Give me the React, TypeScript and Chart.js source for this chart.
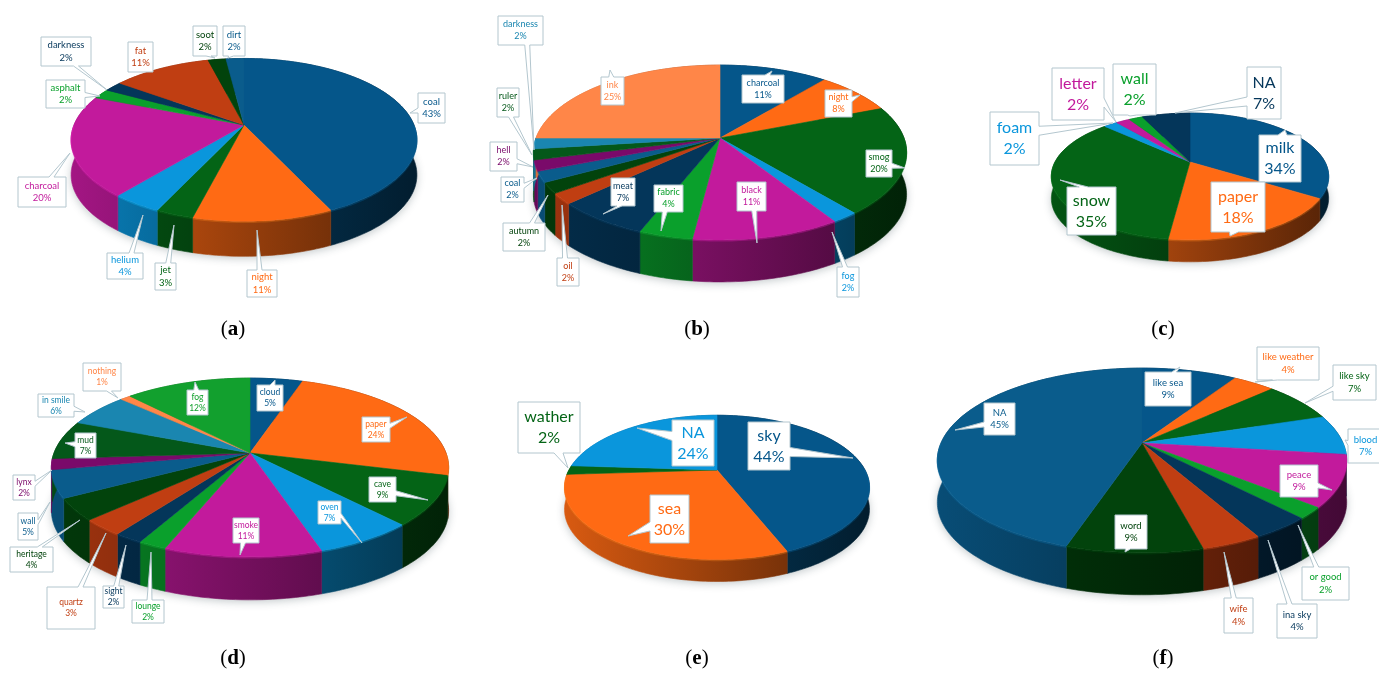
import React, { useEffect, useRef } from "react";
import { Chart, registerables } from "chart.js";

Chart.register(...registerables);

// Survey answers per panel: slice names and their percentages, clockwise from 12 o'clock.
const aNames = ["coal", "night", "jet", "helium", "charcoal", "asphalt", "darkness", "fat", "soot", "dirt"];
const aValues = [43, 11, 3, 4, 20, 2, 2, 11, 2, 2];

const bNames = ["charcoal", "night", "smog", "fog", "black", "fabric", "meat", "oil", "autumn", "coal", "hell", "ruler", "darkness", "ink"];
const bValues = [11, 8, 20, 2, 11, 4, 7, 2, 2, 2, 2, 2, 2, 25];

const cNames = ["milk", "paper", "snow", "foam", "letter", "wall", "NA"];
const cValues = [34, 18, 35, 2, 2, 2, 7];

const dNames = ["cloud", "paper", "cave", "oven", "smoke", "lounge", "sight", "quartz", "heritage", "wall", "lynx", "mud", "in smile", "nothing", "fog"];
const dValues = [5, 24, 9, 7, 11, 2, 2, 3, 4, 5, 2, 7, 6, 1, 12];

const eNames = ["sky", "sea", "wather", "NA"];
const eValues = [44, 30, 2, 24];

const fNames = ["like sea", "like weather", "like sky", "blood", "peace", "or good", "ina sky", "wife", "word", "NA"];
const fValues = [9, 4, 7, 7, 9, 2, 4, 4, 9, 45];

const captions = ["a", "b", "c", "d", "e", "f"];

const palette = [
  "#05568a", "#ff6a14", "#046416", "#0a96dc", "#c21a9c", "#0aa02c", "#04365a", "#c03e12",
  "#02430c", "#0a5c8c", "#7a0a6a", "#04581a", "#1a86b0", "#ff8648", "#12a02e",
];

// Callout boxes on the page: x, y, width, height, then the tip of the tail.
type Callout = [number, number, number, number, number, number];

const aCallouts: Callout[] = [
  [418, 93, 27, 30, 410, 113], [247, 270, 30, 27, 257, 230], [155, 263, 21, 27, 174, 225],
  [107, 253, 36, 26, 143, 215], [18, 177, 48, 30, 70, 153], [46, 80, 39, 28, 100, 96],
  [41, 37, 50, 29, 107, 90], [128, 42, 25, 30, 140, 72], [193, 26, 24, 30, 215, 58], [223, 26, 22, 30, 228, 58],
];
const bCallouts: Callout[] = [
  [742, 75, 42, 28, 772, 71], [825, 90, 27, 27, 860, 95], [866, 150, 26, 27, 905, 168],
  [837, 267, 22, 30, 832, 232], [737, 182, 29, 29, 757, 243], [654, 185, 29, 27, 661, 231],
  [611, 178, 24, 28, 603, 214], [557, 258, 22, 28, 562, 205], [503, 223, 42, 28, 548, 195],
  [501, 177, 23, 25, 537, 178], [490, 142, 27, 29, 533, 167], [497, 88, 22, 29, 532, 155],
  [498, 16, 45, 29, 534, 150], [601, 77, 23, 28, 610, 70],
];
const cCallouts: Callout[] = [
  [1259, 135, 42, 47, 1285, 130], [1211, 182, 54, 50, 1230, 236], [1067, 187, 49, 48, 1060, 180],
  [990, 112, 49, 53, 1113, 123], [1052, 68, 52, 52, 1116, 122], [1113, 64, 43, 51, 1130, 116], [1247, 67, 34, 52, 1175, 113],
];
const dCallouts: Callout[] = [
  [257, 385, 26, 26, 275, 380], [362, 417, 28, 25, 407, 417], [369, 477, 27, 25, 428, 500],
  [318, 501, 23, 23, 362, 543], [233, 518, 26, 25, 240, 555], [132, 600, 32, 23, 151, 552],
  [103, 586, 21, 22, 126, 545], [47, 587, 48, 42, 106, 533], [10, 547, 43, 25, 80, 520],
  [18, 513, 20, 27, 50, 502], [13, 475, 22, 25, 52, 470], [75, 433, 21, 25, 65, 443],
  [38, 394, 36, 23, 85, 412], [83, 363, 38, 28, 118, 398], [187, 390, 21, 25, 195, 382],
];
const eCallouts: Callout[] = [
  [748, 422, 42, 48, 853, 458], [650, 495, 39, 48, 628, 536], [518, 402, 62, 51, 568, 468], [672, 420, 42, 46, 637, 428],
];
const fCallouts: Callout[] = [
  [1145, 372, 46, 34, 1180, 367], [1257, 347, 62, 33, 1255, 382], [1333, 365, 43, 35, 1305, 403],
  [1348, 429, 35, 34, 1345, 440], [1280, 465, 38, 32, 1332, 490], [1302, 567, 47, 33, 1298, 525],
  [1277, 604, 40, 34, 1268, 540], [1224, 598, 29, 35, 1224, 552], [1115, 515, 32, 34, 1125, 552], [984, 403, 31, 32, 955, 430],
];

// Panel placement: apex of the pie, radius, vertical squash, perspective strength, rim depth, label font size.
const panels = [
  { names: aNames, values: aValues, callouts: aCallouts, cx: 244, cy: 125, r: 170, squash: 0.463, k: 0.183, depth: 35, font: 9.5 },
  { names: bNames, values: bValues, callouts: bCallouts, cx: 720, cy: 138, r: 184, squash: 0.462, k: 0.166, depth: 42, font: 9 },
  { names: cNames, values: cValues, callouts: cCallouts, cx: 1190, cy: 162, r: 135, squash: 0.445, k: 0.228, depth: 22, font: 16 },
  { names: dNames, values: dValues, callouts: dCallouts, cx: 250, cy: 453, r: 196, squash: 0.444, k: 0.162, depth: 43, font: 8.5 },
  { names: eNames, values: eValues, callouts: eCallouts, cx: 717, cy: 470, r: 148, squash: 0.459, k: 0.241, depth: 22, font: 16 },
  { names: fNames, values: fValues, callouts: fCallouts, cx: 1142, cy: 443, r: 201, squash: 0.443, k: 0.189, depth: 42, font: 9.5 },
];

const PAD = 130;
const RIM = "#b3c6ce";

function shade(hex: string, f: number): string {
  const n = parseInt(hex.slice(1), 16);
  const c = [(n >> 16) & 255, (n >> 8) & 255, n & 255].map((v) => Math.min(255, Math.round(v * f)));
  return `rgb(${c[0]},${c[1]},${c[2]})`;
}

// Rectangular callout whose tail leaves the side nearest to the tip.
function calloutPath(ctx: CanvasRenderingContext2D, x: number, y: number, w: number, h: number, tx: number, ty: number, tail: number) {
  const mx = x + w / 2;
  const my = y + h / 2;
  const dx = tx < x ? x - tx : tx > x + w ? tx - x - w : 0;
  const dy = ty < y ? y - ty : ty > y + h ? ty - y - h : 0;
  const base = Math.min(tail, Math.min(w, h) * 0.4);
  const clampX = Math.max(x + base, Math.min(x + w - base, tx));
  const clampY = Math.max(y + base, Math.min(y + h - base, ty));
  const bx = (clampX + mx) / 2;
  const by = (clampY + my) / 2;
  ctx.beginPath();
  ctx.moveTo(x, y);
  if (dy >= dx && ty < y) {
    ctx.lineTo(bx - base / 2, y);
    ctx.lineTo(tx, ty);
    ctx.lineTo(bx + base / 2, y);
  }
  ctx.lineTo(x + w, y);
  if (dx > dy && tx > x + w) {
    ctx.lineTo(x + w, by - base / 2);
    ctx.lineTo(tx, ty);
    ctx.lineTo(x + w, by + base / 2);
  }
  ctx.lineTo(x + w, y + h);
  if (dy >= dx && ty > y + h) {
    ctx.lineTo(bx + base / 2, y + h);
    ctx.lineTo(tx, ty);
    ctx.lineTo(bx - base / 2, y + h);
  }
  ctx.lineTo(x, y + h);
  if (dx > dy && tx < x) {
    ctx.lineTo(x, by + base / 2);
    ctx.lineTo(tx, ty);
    ctx.lineTo(x, by - base / 2);
  }
  ctx.closePath();
}

// Draws the controller's arcs as a tilted disc with a rim, then the value callouts.
const discPlugin = {
  id: "disc",
  beforeDatasetDraw(chart: any) {
    const p = chart.options.plugins.disc;
    const ctx: CanvasRenderingContext2D = chart.ctx;
    const arcs = chart.getDatasetMeta(0).data;
    const colors: string[] = chart.data.datasets[0].backgroundColor;
    const offX = p.cx - chart.width / 2;
    const offY = p.cy - chart.height / 2;

    const project = (el: any, a: number) => {
      const u = Math.cos(a);
      const v = Math.sin(a);
      const w = 1 - p.k * v;
      return [el.x + (el.outerRadius * u) / w, el.y + (el.outerRadius * p.squash * v) / w];
    };
    const outline = (el: any) => {
      const pts: number[][] = [];
      const n = Math.max(2, Math.ceil((el.endAngle - el.startAngle) / 0.02));
      for (let i = 0; i <= n; i++) pts.push(project(el, el.startAngle + ((el.endAngle - el.startAngle) * i) / n));
      return pts;
    };

    const first = arcs[0];
    const left = first.x - first.outerRadius * 1.05;
    const span = first.outerRadius * 2.1;
    const lightAt = (x: number) => 0.85 - (0.52 * (x - left)) / span;

    // soft shadow under the whole disc
    ctx.save();
    ctx.shadowColor = "rgba(40,60,70,0.28)";
    ctx.shadowBlur = 9;
    ctx.shadowOffsetY = 2;
    ctx.fillStyle = "#ffffff";
    ctx.beginPath();
    arcs.forEach((el: any) => outline(el).forEach(([x, y]) => ctx.lineTo(x, y + p.depth)));
    ctx.closePath();
    ctx.fill();
    ctx.restore();

    // rim
    arcs.forEach((el: any, i: number) => {
      const pts = outline(el);
      const xs = pts.map((q) => q[0]);
      const x0 = Math.min(...xs);
      const x1 = Math.max(...xs);
      const g = ctx.createLinearGradient(x0, 0, Math.max(x1, x0 + 1), 0);
      g.addColorStop(0, shade(colors[i], lightAt(x0)));
      g.addColorStop(1, shade(colors[i], lightAt(x1)));
      ctx.fillStyle = g;
      ctx.strokeStyle = g;
      ctx.lineWidth = 0.6;
      ctx.beginPath();
      pts.forEach(([x, y]) => ctx.lineTo(x, y));
      for (let j = pts.length - 1; j >= 0; j--) ctx.lineTo(pts[j][0], pts[j][1] + p.depth);
      ctx.closePath();
      ctx.fill();
      ctx.stroke();
    });

    // top face
    arcs.forEach((el: any, i: number) => {
      ctx.fillStyle = colors[i];
      ctx.strokeStyle = colors[i];
      ctx.lineWidth = 0.6;
      ctx.beginPath();
      ctx.moveTo(el.x, el.y);
      outline(el).forEach(([x, y]) => ctx.lineTo(x, y));
      ctx.closePath();
      ctx.fill();
      ctx.stroke();
    });

    // faint highlight along the front edge
    ctx.save();
    ctx.globalAlpha = 0.3;
    ctx.lineWidth = 1.4;
    arcs.forEach((el: any, i: number) => {
      ctx.strokeStyle = shade(colors[i], 1.25);
      ctx.beginPath();
      outline(el).forEach(([x, y], j, all) => {
        const a = el.startAngle + ((el.endAngle - el.startAngle) * j) / (all.length - 1);
        if (Math.sin(a) > 0) ctx.lineTo(x, y + 1);
        else ctx.moveTo(x, y + 1);
      });
      ctx.stroke();
    });
    ctx.restore();

    // callouts
    ctx.textAlign = "center";
    ctx.textBaseline = "middle";
    ctx.font = `${p.font}px Lato, "Open Sans", sans-serif`;
    p.callouts.forEach((c: Callout, i: number) => {
      const [x, y, w, h, tx, ty] = c;
      const bx = x - offX;
      const by = y - offY;
      calloutPath(ctx, bx, by, w, h, tx - offX, ty - offY, p.font > 12 ? 9 : 5);
      ctx.fillStyle = "#ffffff";
      ctx.fill();
      ctx.strokeStyle = RIM;
      ctx.lineWidth = 1;
      ctx.stroke();
      ctx.fillStyle = shade(colors[i], 1);
      const lead = p.font * 1.32;
      ctx.fillText(chart.data.labels[i], bx + w / 2, by + h / 2 - lead / 2);
      ctx.fillText(`${chart.data.datasets[0].data[i]}%`, bx + w / 2, by + h / 2 + lead / 2);
    });
    return false;
  },
};

function Panel({ spec }: { spec: (typeof panels)[number] }) {
  const ref = useRef<HTMLCanvasElement>(null);
  const side = 2 * (spec.r + PAD);
  useEffect(() => {
    const chart = new Chart(ref.current as HTMLCanvasElement, {
      type: "pie",
      data: {
        labels: spec.names,
        datasets: [{ data: spec.values, backgroundColor: palette.slice(0, spec.values.length), borderWidth: 0 }],
      },
      options: {
        responsive: false,
        animation: false,
        devicePixelRatio: 1,
        layout: { padding: PAD },
        plugins: { legend: { display: false }, tooltip: { enabled: false }, disc: spec },
      } as any,
      plugins: [discPlugin],
    } as any);
    return () => chart.destroy();
  }, [spec]);
  return (
    <canvas
      ref={ref}
      width={side}
      height={side}
      style={{ position: "absolute", left: spec.cx - side / 2, top: spec.cy - side / 2, width: side, height: side }}
    />
  );
}

const captionX = [233, 697, 1163];
const captionY = [328, 657];

export default function App() {
  return (
    <div style={{ position: "absolute", left: 0, top: 0, width: 1379, height: 677, overflow: "hidden", background: "#ffffff" }}>
      {panels.map((spec, i) => (
        <Panel key={i} spec={spec} />
      ))}
      {captions.map((letter, i) => (
        <div
          key={letter}
          style={{
            position: "absolute",
            left: captionX[i % 3] - 30,
            width: 60,
            top: captionY[i < 3 ? 0 : 1] - 13,
            textAlign: "center",
            font: '21px/26px "Liberation Serif", serif',
            color: "#000",
          }}
        >
          (<b>{letter}</b>)
        </div>
      ))}
    </div>
  );
}
